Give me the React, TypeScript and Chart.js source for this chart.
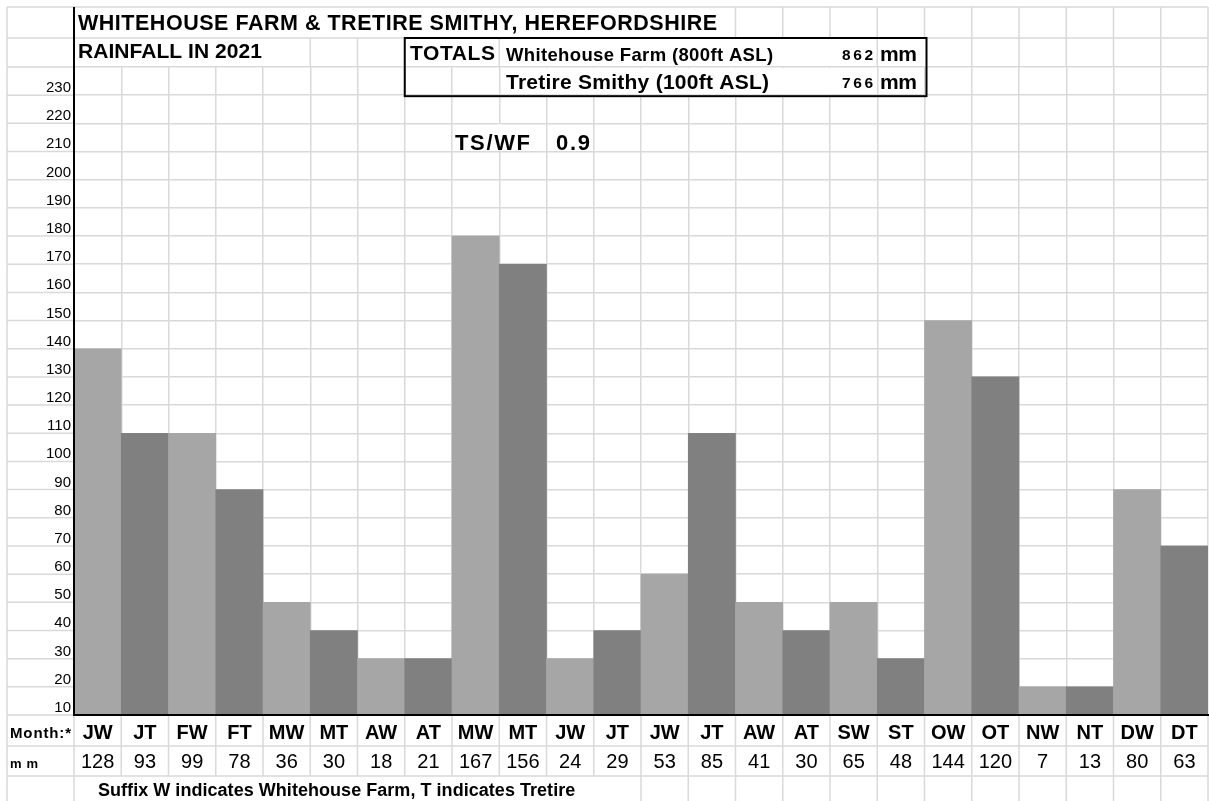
import React, { useEffect, useRef } from 'react';
import { Chart, registerables } from 'chart.js';

Chart.register(...registerables);

const FONT = "'Liberation Sans', Arial, Helvetica, sans-serif";

// ---- data ----
const monthCodes = ['JW', 'JT', 'FW', 'FT', 'MW', 'MT', 'AW', 'AT', 'MW', 'MT', 'JW', 'JT', 'JW', 'JT', 'AW', 'AT', 'SW', 'ST', 'OW', 'OT', 'NW', 'NT', 'DW', 'DT'];
const rainfallMm = [128, 93, 99, 78, 36, 30, 18, 21, 167, 156, 24, 29, 53, 85, 41, 30, 65, 48, 144, 120, 7, 13, 80, 63];
// heights of the shaded bars as drawn in the sheet (in whole 10 mm cells)
const barHeights = [130, 100, 100, 80, 40, 30, 20, 20, 170, 160, 20, 30, 50, 100, 40, 30, 40, 20, 140, 120, 10, 10, 80, 60];
const titleLines = ['WHITEHOUSE FARM & TRETIRE SMITHY, HEREFORDSHIRE', 'RAINFALL IN 2021'];
const siteNames = ['Whitehouse Farm (800ft ASL)', 'Tretire Smithy (100ft ASL)'];
const siteTotalsMm = [862, 766];
const ratioLabel = 'TS/WF';
const ratioValue = '0.9';
const footnote = 'Suffix W indicates Whitehouse Farm, T indicates Tretire';
const yMin = 0;
const yMax = 230;
const yStep = 10;

const W_COLOR = '#a6a6a6';
const T_COLOR = '#808080';
const GRID = '#d9d9d9';

function fitText(ctx: CanvasRenderingContext2D, s: string, x: number, yb: number, font: string, width: number) {
  ctx.font = font;
  (ctx as any).letterSpacing = '0px';
  ctx.textAlign = 'left';
  ctx.textBaseline = 'alphabetic';
  const w = ctx.measureText(s).width;
  const n = Math.max(s.length - 1, 1);
  const sp = (width - w) / n;
  (ctx as any).letterSpacing = sp.toFixed(2) + 'px';
  ctx.fillText(s, x, yb);
  (ctx as any).letterSpacing = '0px';
}

const TOP1 = 7;
const TOP2 = 38;
const LEFTX = 7;
const B1 = 746;
const B2 = 776;
const B3 = 808;

const sheetPlugin = {
  id: 'sheet',
  beforeDatasetsDraw(chart: any) {
    const { ctx, chartArea: ca, scales } = chart;
    const y = scales.y;
    const n = monthCodes.length;
    const colW = ca.width / n;
    const col = (k: number) => ca.left + k * colW;
    const rowY = (v: number) => y.getPixelForValue(v);
    ctx.save();
    // hide cell borders covered by overflowing text inside the totals box (row 230)
    ctx.fillStyle = '#ffffff';
    ctx.fillRect(col(10) - 2, rowY(230) + 1, col(16) - col(10) + 4, rowY(220) - rowY(230) - 2);
    // hide border covered by "TS/WF"
    ctx.fillRect(col(9) - 2, rowY(210) + 1, 4, rowY(200) - rowY(210) - 2);

    ctx.strokeStyle = GRID;
    ctx.lineWidth = 1.5;
    const h = (yy: number, x1: number, x2: number) => {
      ctx.beginPath(); ctx.moveTo(x1, yy); ctx.lineTo(x2, yy); ctx.stroke();
    };
    const v = (xx: number, y1: number, y2: number) => {
      ctx.beginPath(); ctx.moveTo(xx, y1); ctx.lineTo(xx, y2); ctx.stroke();
    };
    // top rows
    h(TOP1, LEFTX, ca.right);
    h(TOP2, LEFTX, ca.right);
    // left label column
    for (let val = yMin; val <= yMax; val += yStep) h(rowY(val), LEFTX, ca.left);
    // bottom rows
    h(B1, LEFTX, ca.right);
    h(B2, LEFTX, ca.right);
    v(LEFTX, TOP1, B3);
    // title row 1 verticals
    for (let k = 14; k <= n; k++) v(col(k), TOP1, TOP2);
    // title row 2 verticals
    [5, 6, 9, 17].forEach((k) => v(col(k), TOP2, rowY(230)));
    for (let k = 19; k <= n; k++) v(col(k), TOP2, rowY(230));
    // month + mm rows
    for (let k = 0; k <= n; k++) v(col(k), ca.bottom, B2);
    // footnote row
    v(col(0), B2, B3);
    for (let k = 12; k <= n; k++) v(col(k), B2, B3);
    ctx.restore();
  },
  afterDraw(chart: any) {
    const { ctx, chartArea: ca, scales } = chart;
    const y = scales.y;
    const x = scales.x;
    const n = monthCodes.length;
    const colW = ca.width / n;
    const col = (k: number) => ca.left + k * colW;
    const rowY = (val: number) => y.getPixelForValue(val);
    ctx.save();
    ctx.strokeStyle = '#000000';
    ctx.lineWidth = 2;
    // axis lines
    ctx.beginPath();
    ctx.moveTo(ca.left, TOP1);
    ctx.lineTo(ca.left, ca.bottom + 1);
    ctx.moveTo(ca.left, ca.bottom);
    ctx.lineTo(chart.width, ca.bottom);
    ctx.stroke();
    // totals box
    ctx.strokeRect(col(7), TOP2, col(18) - col(7) + 2, rowY(220) - TOP2 + 1);

    ctx.fillStyle = '#000000';
    // titles
    fitText(ctx, titleLines[0], 78, 29.5, `bold 21.5px ${FONT}`, 639);
    fitText(ctx, titleLines[1], 78, 58, `bold 21px ${FONT}`, 184);
    // totals
    fitText(ctx, 'TOTALS', 410, 60, `bold 21px ${FONT}`, 85);
    fitText(ctx, siteNames[0], 506, 60.5, `bold 18.5px ${FONT}`, 267);
    fitText(ctx, siteNames[1], 506, 89, `bold 21px ${FONT}`, 263);
    fitText(ctx, String(siteTotalsMm[0]), 842, 59.5, `bold 15.5px ${FONT}`, 31);
    fitText(ctx, String(siteTotalsMm[1]), 842, 87.5, `bold 15.5px ${FONT}`, 31);
    fitText(ctx, 'mm', 880, 61, `bold 21px ${FONT}`, 37);
    fitText(ctx, 'mm', 880, 89, `bold 21px ${FONT}`, 37);
    // ratio
    fitText(ctx, ratioLabel, 455, 149.5, `bold 22px ${FONT}`, 75);
    fitText(ctx, ratioValue, 556, 149.5, `bold 22px ${FONT}`, 34);
    // bottom row headers
    fitText(ctx, 'Month:*', 10, 738, `bold 15px ${FONT}`, 61);
    fitText(ctx, 'mm', 10, 768, `bold 13px ${FONT}`, 28);
    // month codes + values
    ctx.textAlign = 'center';
    ctx.textBaseline = 'alphabetic';
    for (let i = 0; i < n; i++) {
      const cx = x.getPixelForValue(i);
      ctx.font = `bold 20px ${FONT}`;
      ctx.fillText(monthCodes[i], cx, 739);
      ctx.font = `20px ${FONT}`;
      ctx.fillText(String(rainfallMm[i]), cx, 768);
    }
    fitText(ctx, footnote, 98, 796, `bold 18px ${FONT}`, 477);
    ctx.restore();
  },
};

export default function App() {
  const ref = useRef<HTMLCanvasElement | null>(null);
  useEffect(() => {
    document.body.style.margin = '0';
    const canvas = ref.current;
    if (!canvas) return;
    Chart.defaults.font.family = FONT;
    const chart = new Chart(canvas, {
      type: 'bar',
      data: {
        labels: monthCodes,
        datasets: [
          {
            data: barHeights,
            backgroundColor: monthCodes.map((c) => (c.endsWith('W') ? W_COLOR : T_COLOR)),
            borderWidth: 0,
            barPercentage: 1,
            categoryPercentage: 1,
          },
        ],
      },
      options: {
        responsive: false,
        animation: false,
        devicePixelRatio: 1,
        layout: { padding: { left: 0, top: 67, right: 1, bottom: 801 - 715 } },
        plugins: { legend: { display: false }, tooltip: { enabled: false }, title: { display: false } },
        scales: {
          x: {
            type: 'category',
            offset: true,
            grid: { offset: true, color: GRID, lineWidth: 1.5, drawTicks: false },
            border: { display: false },
            ticks: { display: false },
          },
          y: {
            min: yMin,
            max: yMax,
            grid: { color: GRID, lineWidth: 1.5, drawTicks: false },
            border: { display: false },
            ticks: {
              stepSize: yStep,
              maxTicksLimit: 100,
              autoSkip: false,
              padding: 3,
              labelOffset: 21,
              color: '#000000',
              font: { family: FONT, size: 15 },
              callback: (val: any) => (Number(val) === 0 ? '' : String(val)),
            },
            afterFit: (s: any) => {
              s.width = 74;
            },
          },
        },
      },
      plugins: [sheetPlugin],
    });
    return () => chart.destroy();
  }, []);
  return <canvas ref={ref} width={1209} height={801} style={{ display: 'block' }} />;
}
